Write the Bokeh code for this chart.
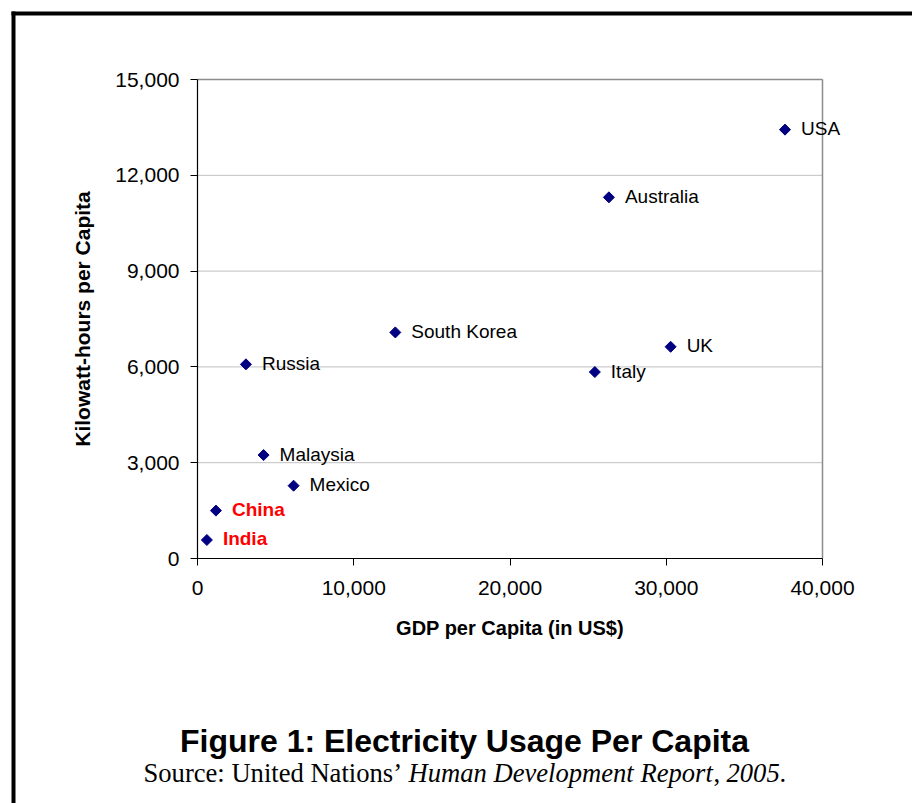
import numpy as np
from bokeh.plotting import figure
from bokeh.models import (ColumnDataSource, NumeralTickFormatter, FixedTicker,
                          Label, BoxAnnotation, Range1d)
from bokeh.core.properties import value
from bokeh.embed import file_html
from bokeh.resources import INLINE

# GDP per capita (US$) vs. electricity use (kWh per capita)
countries = ["USA", "Australia", "South Korea", "UK", "Russia", "Italy",
             "Malaysia", "Mexico", "China", "India"]
gdp_per_capita = [37600, 26330, 12660, 30280, 3100, 25430, 4230, 6150, 1180, 600]
kwh_per_capita = [13430, 11310, 7080, 6630, 6080, 5840, 3240, 2280, 1500, 580]
highlighted = ["China", "India"]

x_ticks = [0, 10000, 20000, 30000, 40000]
y_ticks = [0, 3000, 6000, 9000, 12000, 15000]

title_text = "Figure 1: Electricity Usage Per Capita"
source_parts = [("Source: United Nations\u2019 ", "normal"),
                ("Human Development Report", "italic"),
                (", ", "normal"),
                ("2005", "italic"),
                (".", "normal")]

SANS = "Liberation Sans"
SERIF = "Liberation Serif"

# page geometry: the plotting frame fills the whole canvas, and the data box
# (0..40000 x 0..15000) sits inside it at these pixel edges
W, H = 912, 803
BOX_L, BOX_R, BOX_T, BOX_B = 197, 822, 79, 558
X0, X1 = x_ticks[0], x_ticks[-1]
Y0, Y1 = y_ticks[0], y_ticks[-1]
kx = (X1 - X0) / (BOX_R - BOX_L)
ky = (Y1 - Y0) / (BOX_B - BOX_T)
x_range = Range1d(X0 - BOX_L * kx, X1 + (W - BOX_R) * kx)
y_range = Range1d(Y0 - (H - BOX_B) * ky, Y1 + BOX_T * ky)

plain_idx = [i for i, c in enumerate(countries) if c not in highlighted]
hi_idx = [i for i, c in enumerate(countries) if c in highlighted]
src = ColumnDataSource(dict(x=gdp_per_capita, y=kwh_per_capita, name=countries))
src_plain = ColumnDataSource(dict(x=[gdp_per_capita[i] for i in plain_idx],
                                  y=[kwh_per_capita[i] for i in plain_idx],
                                  name=[countries[i] for i in plain_idx]))
src_hi = ColumnDataSource(dict(x=[gdp_per_capita[i] for i in hi_idx],
                               y=[kwh_per_capita[i] for i in hi_idx],
                               name=[countries[i] for i in hi_idx]))

p = figure(width=W, height=H, output_backend="svg", toolbar_location=None,
           x_range=x_range, y_range=y_range,
           min_border=0, min_border_left=0, min_border_right=0,
           min_border_top=0, min_border_bottom=0,
           background_fill_color="white", border_fill_color="white")
p.outline_line_color = None
p.xgrid.visible = False
p.ygrid.visible = False

# horizontal gridlines and the grey top/right edges of the chart box
grid_y = y_ticks[1:]
p.segment(x0=[X0] * len(grid_y), y0=grid_y, x1=[X1] * len(grid_y), y1=grid_y,
          line_color="#c0c0c0", line_width=1)
p.segment(x0=[X0, X1], y0=[Y1, Y0], x1=[X1, X1], y1=[Y1, Y1],
          line_color="#8c8c8c", line_width=1.5)

p.xaxis.ticker = FixedTicker(ticks=x_ticks)
p.yaxis.ticker = FixedTicker(ticks=y_ticks)
p.xaxis.fixed_location = Y0
p.yaxis.fixed_location = X0
p.xaxis.bounds = (X0, X1)
p.yaxis.bounds = (Y0, Y1)
for ax in (p.xaxis[0], p.yaxis[0]):
    ax.formatter = NumeralTickFormatter(format="0,0")
    ax.minor_tick_line_color = None
    ax.major_tick_in = 0
    ax.major_tick_out = 7
    ax.axis_line_color = "black"
    ax.axis_line_width = 1.2
    ax.major_tick_line_color = "black"
    ax.major_label_text_font = SANS
    ax.major_label_text_font_size = "21px"
    ax.major_label_text_color = "black"
    ax.axis_label_text_font = SANS
    ax.axis_label_text_font_style = "bold"
    ax.axis_label_text_color = "black"

p.xaxis.major_label_standoff = 15
p.yaxis.major_label_standoff = 11
p.xaxis.axis_label = "GDP per Capita (in US$)"
p.yaxis.axis_label = "Kilowatt-hours per Capita"
p.xaxis.axis_label_text_font_size = "20px"
p.yaxis.axis_label_text_font_size = "21px"
p.xaxis.axis_label_standoff = 19
p.yaxis.axis_label_standoff = 18

p.scatter(x="x", y="y", source=src, marker="square", angle=np.pi / 4,
          size=7.8, fill_color="#000080", line_color="#000080", line_width=1)

p.text(x="x", y="y", text="name", source=src_plain, x_offset=16, y_offset=-1,
       text_baseline="middle", text_align="left", text_font=value(SANS),
       text_font_size="19px", text_color="black")
p.text(x="x", y="y", text="name", source=src_hi, x_offset=16, y_offset=-1,
       text_baseline="middle", text_align="left", text_font=value(SANS),
       text_font_size="19px", text_font_style="bold", text_color="#ff0000")

# black page frame along the top and left edges
for l, r, t, b in [(11, 15, 11, H), (11, W, 11, 15)]:
    p.add_layout(BoxAnnotation(left=l, right=r, top=t, bottom=b,
                               left_units="canvas", right_units="canvas",
                               top_units="canvas", bottom_units="canvas",
                               fill_color="black", fill_alpha=1,
                               line_color=None))

# caption below the chart
p.add_layout(Label(x=464, y=740, x_units="canvas", y_units="canvas",
                   text=title_text, text_align="center", text_baseline="alphabetic",
                   text_font=SANS, text_font_size="32px", text_font_style="bold",
                   text_color="black"))

# left edges of the source-line runs (Times advance widths at 26.6px)
source_x = [143, 408, 713, 726, 779]
for (txt, style), sx in zip(source_parts, source_x):
    p.add_layout(Label(x=sx, y=772, x_units="canvas", y_units="canvas",
                       text=txt, text_align="left", text_baseline="alphabetic",
                       text_font=SERIF, text_font_size="26.6px", text_font_style=style,
                       text_color="black"))

open("out.html", "w").write(file_html(p, INLINE))
